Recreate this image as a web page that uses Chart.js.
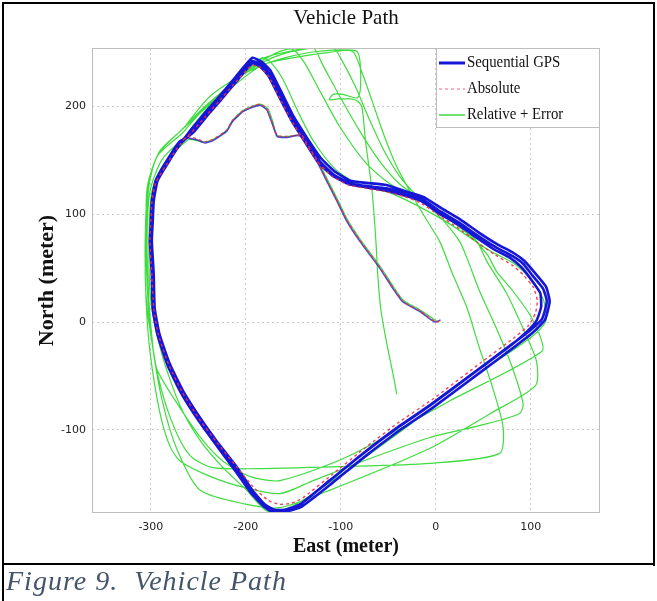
<!DOCTYPE html>
<html>
<head>
<meta charset="utf-8">
<script src="https://cdn.jsdelivr.net/npm/chart.js@4.4.0/dist/chart.umd.min.js"></script>
<style>
  body { margin: 0; background: #fff; }
  #wrap { position: relative; width: 657px; height: 601px; overflow: hidden; background: #fff; }
  #path-chart { position: absolute; left: 0; top: 0; background: #fff; }
  .rule { position: absolute; background: #000; }
  #caption {
    position: absolute; left: 6px; top: 565px;
    font-family: "Liberation Serif", serif; font-style: italic; font-size: 28px;
    letter-spacing: 1px; color: #44546a; white-space: pre;
  }
</style>
</head>
<body>
<div id="wrap">
  <canvas id="path-chart" width="657" height="566"></canvas>
  <div class="rule" style="left:2px;top:2px;width:653px;height:2px"></div>
  <div class="rule" style="left:2px;top:2px;width:2px;height:599px"></div>
  <div class="rule" style="left:653px;top:2px;width:2px;height:564px"></div>
  <div class="rule" style="left:2px;top:563px;width:653px;height:2px"></div>
  <div id="caption">Figure 9.  Vehicle Path</div>
</div>
<script>
// axis ranges and ticks (meters)
const eastRange = [-362, 173];
const northRange = [-177, 254];
const eastTicks = [-300, -200, -100, 0, 100];
const northTicks = [-100, 0, 100, 200];
const legendOrder = ["Sequential GPS", "Absolute", "Relative + Error"];

// Sequential GPS: inner road from the origin
const gpsInnerEast = [5, 0, -3, -17, -35, -45, -59, -80, -94, -104, -115, -125, -136, -141, -146, -157, -167, -173, -178, -185, -193, -203, -214, -220, -235, -243, -252, -262];
const gpsInnerNorth = [2, 0, 1, 10, 19, 31, 50, 75, 94, 112, 131, 149, 165, 172, 173, 171, 172, 186, 197, 201, 199, 195, 186, 177, 168, 166, 169, 171];

// Sequential GPS: three laps of the outer loop
const gpsEast = [
  -262, -269, -283, -293, -297, -298, -299, -297, -296, -291, -280, -266, -248, -231, -209, -193, -180, -170, -159, -143, -112, -77, -41, -6, 46, 81, 99, 112, 117, 113, 102, 92, 81, 64, 46, 25, 4, -14, -31, -52, -73, -91, -108, -122, -136, -151, -164, -175, -183, -193, -209, -227, -241, -256, -262,
  -270, -285, -295, -299, -300, -301, -299, -298, -293, -282, -268, -250, -232, -211, -195, -181, -170, -158, -141, -110, -75, -39, -4, 48, 83, 102, 115, 120, 116, 104, 93, 82, 65, 47, 26, 5, -13, -31, -52, -73, -90, -107, -121, -135, -150, -163, -174, -183, -193, -210, -228, -242, -257, -264,
  -271, -284, -294, -298, -299, -300, -298, -297, -292, -281, -267, -249, -231, -210, -194, -181, -171, -160, -144, -113, -78, -42, -7, 45, 80, 96, 106, 111, 110, 100, 90, 79, 62, 45, 24, 3, -15, -32, -53, -74, -92, -109, -123, -137, -152, -165, -176, -184, -193, -208, -226, -240, -255, -262
];
const gpsNorth = [
  171, 165, 146, 131, 112, 94, 75, 44, 13, -11, -39, -64, -89, -110, -135, -156, -169, -174, -174, -169, -147, -122, -98, -77, -43, -20, -8, 3, 19, 31, 43, 54, 61, 69, 79, 92, 103, 114, 119, 124, 126, 129, 137, 149, 168, 189, 211, 230, 238, 242, 226, 207, 193, 177, 171,
  167, 147, 131, 112, 93, 75, 44, 12, -12, -41, -66, -91, -113, -138, -158, -171, -177, -176, -171, -150, -125, -101, -80, -46, -23, -10, 2, 19, 33, 46, 57, 64, 72, 82, 95, 106, 116, 121, 127, 129, 131, 140, 152, 170, 191, 214, 233, 241, 245, 228, 209, 195, 179, 171,
  163, 145, 129, 111, 93, 74, 43, 12, -12, -40, -65, -90, -111, -136, -157, -170, -175, -175, -170, -148, -123, -99, -78, -44, -21, -9, 1, 14, 27, 40, 51, 59, 67, 77, 90, 101, 112, 117, 122, 125, 128, 136, 147, 166, 187, 209, 228, 236, 240, 225, 206, 192, 176, 171
];

// Absolute solution
const absEast = [
  4, 0, -16, -34, -45, -59, -80, -94, -104, -115, -125, -136, -141, -157, -167, -173, -178, -185, -193, -203, -214, -220, -235, -243, -252, -262,
  -270, -285, -295, -299, -300, -301, -299, -297, -292, -281, -267, -249, -231, -210, -192, -177, -165, -152, -140, -110, -75, -39, -4, 47, 82, 98, 105, 107, 103, 92, 80, 63, 45, 24, 3, -15, -32, -53, -74, -92, -109, -123, -137, -152, -165, -176, -185, -194, -210, -228, -243, -258, -264
];
const absNorth = [
  1, 0, 10, 19, 32, 51, 76, 95, 113, 132, 150, 166, 173, 172, 173, 187, 198, 202, 200, 196, 187, 178, 169, 167, 170, 172,
  164, 144, 129, 111, 93, 75, 44, 13, -12, -40, -65, -90, -111, -134, -153, -165, -169, -168, -163, -142, -117, -93, -72, -38, -15, -3, 8, 20, 32, 44, 53, 62, 73, 87, 99, 110, 116, 121, 124, 127, 135, 147, 166, 187, 209, 228, 236, 238, 223, 205, 190, 175, 170
];

// Relative + Error: drifting laps
const relEast = [
  1, -16, -34, -44, -58, -79, -93, -103, -114, -124, -135, -141, -157, -167, -172, -177, -185, -193, -203, -214, -220, -235, -245, -256,
  -261, -286, -299, -302, -300, -288, -269, -248, -224, -199, -178, -154, -112, -41, 46, 99, 116, 114, 104, 83, 57, 9, -46, -80, -106, -129, -145, -161, -173, -183, -206, -233, -254, -264,
  -288, -301, -304, -302, -299, -294, -269, -245, -224, -196, -164, -91, 15, 112, 109, 99, 81, 64, 54, 36, 9, -22, -48, -75, -101, -122, -138, -151, -169, -196, -222, -248, -267,
  -293, -302, -305, -303, -299, -288, -272, -248, -199, -164, -112, -6, 57, 105, 106, 92, 75, 54, 43, 20, -12, -38, -59, -80, -101, -120, -129, -154, -183, -212, -243, -269,
  -291, -303, -306, -305, -301, -291, -280, -269, -235, -199, -164, -129, -77, -6, 46, 88, 92, 81, 64, 46, 33, 25, 4, -22, -38, -54, -69, -85, -101, -108, -138, -169, -201, -233, -264,
  -292, -304, -305, -306, -304, -299, -293, -283, -269, -256, -235, -199, -101, -6, 67, 71, 60, 46, 33, 18, 4, -12, -27, -41, -54, -67, -78, -88, -122, -154, -185, -217, -248, -264,
  -238, -206, -177, -143, -112, -83, -79, -82, -98, -108, -112, -101, -85, -78, -74, -67, -63, -61, -58, -52, -45, -41
];
const relNorth = [
  1, 11, 20, 32, 51, 76, 95, 113, 132, 150, 166, 173, 172, 173, 187, 198, 202, 200, 196, 187, 178, 169, 167, 169,
  169, 147, 121, 75, 19, -31, -78, -110, -135, -156, -175, -172, -149, -104, -47, -15, 1, 19, 36, 54, 66, 94, 119, 127, 142, 168, 195, 225, 240, 245, 228, 205, 184, 172,
  151, 121, 75, 19, -13, -43, -80, -110, -129, -143, -147, -124, -73, -27, -11, 7, 29, 47, 63, 80, 98, 115, 128, 149, 181, 214, 240, 253, 249, 234, 214, 194, 175,
  154, 126, 75, 19, -18, -73, -119, -156, -169, -172, -156, -117, -85, -59, -36, -6, 26, 56, 75, 94, 112, 128, 149, 177, 209, 240, 254, 251, 244, 223, 200, 177,
  158, 126, 75, 19, -27, -82, -115, -129, -144, -154, -159, -147, -129, -107, -96, -85, -76, -43, -6, 29, 59, 75, 98, 119, 135, 158, 186, 219, 246, 254, 253, 246, 231, 207, 181,
  156, 124, 75, 44, 13, -18, -48, -80, -110, -126, -135, -136, -134, -131, -122, -98, -61, -24, 13, 44, 75, 98, 121, 144, 172, 205, 232, 251, 251, 246, 237, 216, 194, 181,
  209, 228, 240, 246, 250, 251, 228, 208, 211, 211, 206, 207, 206, 200, 168, 121, 75, 43, 13, -18, -48, -67
];

function toPoints(east, north) {
  return east.map((x, i) => ({ x: x, y: north[i] }));
}

// title and boxed legend, drawn like the matlab figure
const figureDecor = {
  id: "figureDecor",
  afterDraw(chart) {
    const { ctx, chartArea: a } = chart;
    ctx.save();
    ctx.strokeStyle = "#bdbdbd";
    ctx.lineWidth = 1;
    ctx.strokeRect(a.left + 0.5, a.top + 0.5, a.right - a.left - 1, a.bottom - a.top - 1);

    ctx.fillStyle = "#111";
    ctx.font = "21px 'Liberation Serif'";
    ctx.textAlign = "center";
    ctx.textBaseline = "middle";
    ctx.fillText("Vehicle Path", (a.left + a.right) / 2, 18);

    const lw = 164, lh = 80;
    const lx = a.right - lw, ly = a.top;
    ctx.fillStyle = "#fff";
    ctx.fillRect(lx, ly, lw, lh);
    ctx.strokeStyle = "#bdbdbd";
    ctx.strokeRect(lx + 0.5, ly + 0.5, lw - 1, lh - 1);
    ctx.textAlign = "left";
    legendOrder.forEach((name, i) => {
      const ds = chart.data.datasets.find((d) => d.label === name);
      const y = ly + 15 + i * 26;
      ctx.beginPath();
      ctx.setLineDash(ds.borderDash || []);
      ctx.strokeStyle = ds.legendColor;
      ctx.lineWidth = ds.legendWidth;
      ctx.moveTo(lx + 3, y);
      ctx.lineTo(lx + 29, y);
      ctx.stroke();
      ctx.setLineDash([]);
      ctx.save();
      ctx.translate(lx + 31, y);
      ctx.scale(0.87, 1);
      ctx.fillStyle = "#111";
      ctx.font = "17px 'Liberation Serif'";
      ctx.fillText(ds.label, 0, 0);
      ctx.restore();
    });
    ctx.restore();
  }
};

new Chart(document.getElementById("path-chart"), {
  type: "scatter",
  data: {
    datasets: [
      {
        label: "Absolute",
        data: toPoints(absEast, absNorth),
        showLine: true,
        borderColor: "rgba(238,48,72,0.9)",
        legendColor: "#f58a9c",
        legendWidth: 1.3,
        borderWidth: 1.4,
        borderDash: [3, 3],
        tension: 0.15,
        pointRadius: 0,
      },
      {
        label: "Sequential GPS",
        data: toPoints(gpsEast, gpsNorth),
        showLine: true,
        borderColor: "#1616d6",
        legendColor: "#1616d6",
        legendWidth: 3,
        borderWidth: 2.6,
        tension: 0.15,
        pointRadius: 0,
      },
      {
        label: "Sequential GPS (inner road)",
        data: toPoints(gpsInnerEast, gpsInnerNorth),
        showLine: true,
        borderColor: "rgba(40,40,200,0.85)",
        borderWidth: 1.6,
        tension: 0.15,
        pointRadius: 0,
      },
      {
        label: "Relative + Error",
        data: toPoints(relEast, relNorth),
        showLine: true,
        borderColor: "#3fdc3f",
        legendColor: "#3fdc3f",
        legendWidth: 1.5,
        borderWidth: 1.2,
        tension: 0.25,
        pointRadius: 0,
      },
    ],
  },
  options: {
    responsive: false,
    animation: false,
    layout: { padding: { top: 48, right: 57, left: 0, bottom: 0 } },
    plugins: {
      legend: { display: false },
      tooltip: { enabled: false },
    },
    scales: {
      x: {
        min: eastRange[0],
        max: eastRange[1],
        afterBuildTicks: (s) => { s.ticks = eastTicks.map((v) => ({ value: v })); },
        afterFit: (s) => { s.height = 53; },
        grid: { color: "#cccccc", drawTicks: false },
        border: { display: false, dash: [2, 3] },
        ticks: { padding: 8, color: "#222", font: { family: "DejaVu Sans", size: 11 } },
        title: {
          display: true,
          text: "East (meter)",
          color: "#111",
          font: { family: "Liberation Serif", size: 20, weight: "bold" },
          padding: { top: 0, bottom: 7 },
        },
      },
      y: {
        min: northRange[0],
        max: northRange[1],
        afterBuildTicks: (s) => { s.ticks = northTicks.map((v) => ({ value: v })); },
        afterFit: (s) => { s.width = 92; },
        grid: { color: "#cccccc", drawTicks: false },
        border: { display: false, dash: [2, 3] },
        ticks: { padding: 6, color: "#222", font: { family: "DejaVu Sans", size: 11 } },
        title: {
          display: true,
          text: "North (meter)",
          color: "#111",
          font: { family: "Liberation Serif", size: 22, weight: "bold" },
          padding: { top: 34, bottom: 0 },
        },
      },
    },
  },
  plugins: [figureDecor],
});
</script>
</body>
</html>
